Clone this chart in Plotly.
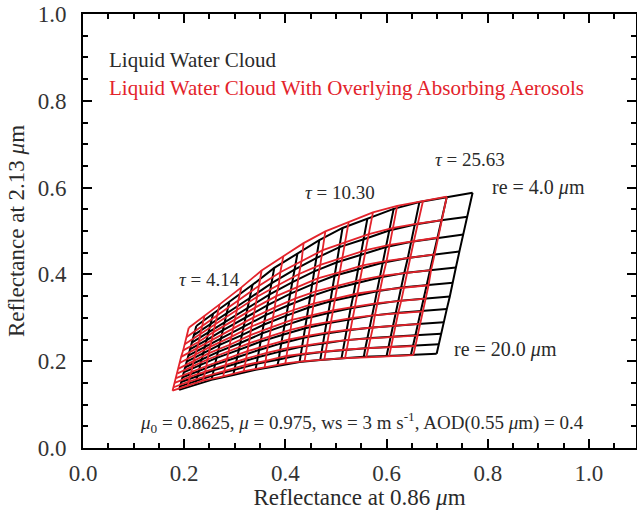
"""
Nakajima-King style look-up table: 0.86 um vs 2.13 um reflectance for a
liquid water cloud, with and without an overlying absorbing aerosol layer.
"""
import plotly.graph_objects as go

# ---------------------------------------------------------------------------
# DATA  (rows = effective radius 4 -> 20 um, columns = optical thickness)
# ---------------------------------------------------------------------------
TAU_LABELS = ["4.14", "10.30", "25.63"]
RE_LABELS = ["4.0", "20.0"]

CLOUD_X = [
    [0.224, 0.257, 0.289, 0.335, 0.378, 0.424, 0.467, 0.513, 0.562, 0.614, 0.665, 0.719, 0.770],
    [0.219, 0.252, 0.284, 0.329, 0.373, 0.418, 0.462, 0.507, 0.555, 0.605, 0.656, 0.708, 0.760],
    [0.215, 0.248, 0.280, 0.325, 0.369, 0.414, 0.457, 0.502, 0.549, 0.599, 0.649, 0.700, 0.752],
    [0.212, 0.245, 0.276, 0.321, 0.365, 0.409, 0.453, 0.497, 0.544, 0.592, 0.642, 0.693, 0.744],
    [0.208, 0.241, 0.273, 0.317, 0.361, 0.406, 0.449, 0.493, 0.539, 0.586, 0.635, 0.686, 0.737],
    [0.205, 0.238, 0.269, 0.314, 0.357, 0.402, 0.445, 0.489, 0.534, 0.581, 0.629, 0.679, 0.731],
    [0.202, 0.235, 0.266, 0.311, 0.354, 0.398, 0.442, 0.485, 0.529, 0.576, 0.623, 0.673, 0.725],
    [0.200, 0.232, 0.263, 0.308, 0.351, 0.395, 0.439, 0.481, 0.525, 0.571, 0.618, 0.667, 0.719],
    [0.197, 0.229, 0.261, 0.305, 0.348, 0.392, 0.436, 0.478, 0.521, 0.566, 0.613, 0.662, 0.713],
    [0.194, 0.226, 0.258, 0.302, 0.345, 0.389, 0.433, 0.475, 0.517, 0.562, 0.608, 0.657, 0.708],
    [0.192, 0.224, 0.256, 0.299, 0.343, 0.387, 0.430, 0.472, 0.514, 0.558, 0.604, 0.652, 0.703],
    [0.190, 0.222, 0.254, 0.297, 0.341, 0.384, 0.428, 0.469, 0.511, 0.555, 0.600, 0.648, 0.699],
]
CLOUD_Y = [
    [0.281, 0.309, 0.336, 0.376, 0.415, 0.449, 0.479, 0.507, 0.528, 0.551, 0.567, 0.578, 0.588],
    [0.260, 0.285, 0.310, 0.345, 0.380, 0.411, 0.438, 0.463, 0.481, 0.501, 0.515, 0.525, 0.533],
    [0.243, 0.267, 0.290, 0.322, 0.354, 0.382, 0.407, 0.428, 0.445, 0.463, 0.475, 0.484, 0.492],
    [0.228, 0.249, 0.271, 0.300, 0.329, 0.355, 0.377, 0.397, 0.411, 0.427, 0.438, 0.446, 0.453],
    [0.213, 0.233, 0.253, 0.280, 0.306, 0.329, 0.349, 0.366, 0.379, 0.393, 0.403, 0.410, 0.416],
    [0.199, 0.218, 0.237, 0.260, 0.284, 0.305, 0.323, 0.338, 0.350, 0.361, 0.370, 0.376, 0.381],
    [0.186, 0.204, 0.221, 0.242, 0.264, 0.282, 0.299, 0.311, 0.322, 0.331, 0.339, 0.344, 0.349],
    [0.175, 0.191, 0.207, 0.226, 0.245, 0.261, 0.276, 0.287, 0.296, 0.305, 0.311, 0.316, 0.320],
    [0.163, 0.178, 0.192, 0.209, 0.226, 0.241, 0.254, 0.263, 0.271, 0.277, 0.282, 0.286, 0.290],
    [0.152, 0.166, 0.179, 0.194, 0.209, 0.222, 0.234, 0.241, 0.248, 0.253, 0.257, 0.260, 0.263],
    [0.142, 0.155, 0.167, 0.180, 0.194, 0.204, 0.215, 0.221, 0.226, 0.230, 0.233, 0.236, 0.239],
    [0.134, 0.145, 0.157, 0.168, 0.180, 0.189, 0.198, 0.203, 0.207, 0.210, 0.212, 0.214, 0.217],
]

AEROSOL_X = [
    [0.209, 0.240, 0.270, 0.313, 0.353, 0.396, 0.436, 0.479, 0.525, 0.573, 0.621, 0.672, 0.719],
    [0.205, 0.235, 0.265, 0.307, 0.348, 0.390, 0.432, 0.474, 0.518, 0.565, 0.613, 0.661, 0.710],
    [0.201, 0.232, 0.262, 0.304, 0.345, 0.387, 0.427, 0.469, 0.513, 0.559, 0.606, 0.654, 0.702],
    [0.198, 0.229, 0.258, 0.300, 0.341, 0.382, 0.423, 0.464, 0.508, 0.553, 0.600, 0.647, 0.695],
    [0.194, 0.225, 0.255, 0.296, 0.337, 0.379, 0.419, 0.460, 0.503, 0.547, 0.593, 0.641, 0.688],
    [0.191, 0.222, 0.251, 0.293, 0.333, 0.375, 0.416, 0.457, 0.499, 0.543, 0.587, 0.634, 0.683],
    [0.189, 0.219, 0.248, 0.290, 0.331, 0.372, 0.413, 0.453, 0.494, 0.538, 0.582, 0.629, 0.677],
    [0.187, 0.217, 0.246, 0.288, 0.328, 0.369, 0.410, 0.449, 0.490, 0.533, 0.577, 0.623, 0.672],
    [0.184, 0.214, 0.244, 0.285, 0.325, 0.366, 0.407, 0.446, 0.487, 0.529, 0.573, 0.618, 0.666],
    [0.181, 0.211, 0.241, 0.282, 0.322, 0.363, 0.404, 0.444, 0.483, 0.525, 0.568, 0.614, 0.661],
    [0.179, 0.209, 0.239, 0.279, 0.320, 0.361, 0.402, 0.441, 0.480, 0.521, 0.564, 0.609, 0.657],
    [0.177, 0.207, 0.237, 0.277, 0.318, 0.359, 0.400, 0.438, 0.477, 0.518, 0.560, 0.605, 0.653],
]
AEROSOL_Y = [
    [0.277, 0.304, 0.331, 0.370, 0.409, 0.442, 0.472, 0.499, 0.520, 0.543, 0.558, 0.569, 0.579],
    [0.256, 0.281, 0.305, 0.340, 0.374, 0.405, 0.431, 0.456, 0.474, 0.493, 0.507, 0.517, 0.525],
    [0.239, 0.263, 0.286, 0.317, 0.349, 0.376, 0.401, 0.422, 0.438, 0.456, 0.468, 0.477, 0.485],
    [0.225, 0.245, 0.267, 0.296, 0.324, 0.350, 0.371, 0.391, 0.405, 0.421, 0.431, 0.439, 0.446],
    [0.210, 0.230, 0.249, 0.276, 0.301, 0.324, 0.344, 0.361, 0.373, 0.387, 0.397, 0.404, 0.410],
    [0.196, 0.215, 0.233, 0.256, 0.280, 0.300, 0.318, 0.333, 0.345, 0.356, 0.364, 0.370, 0.375],
    [0.183, 0.201, 0.218, 0.238, 0.260, 0.278, 0.295, 0.306, 0.317, 0.326, 0.334, 0.339, 0.344],
    [0.172, 0.188, 0.204, 0.223, 0.241, 0.257, 0.272, 0.283, 0.292, 0.300, 0.306, 0.311, 0.315],
    [0.161, 0.175, 0.189, 0.206, 0.223, 0.237, 0.250, 0.259, 0.267, 0.273, 0.278, 0.282, 0.286],
    [0.150, 0.164, 0.176, 0.191, 0.206, 0.219, 0.230, 0.237, 0.244, 0.249, 0.253, 0.256, 0.259],
    [0.140, 0.153, 0.164, 0.177, 0.191, 0.201, 0.212, 0.218, 0.223, 0.227, 0.230, 0.232, 0.235],
    [0.132, 0.143, 0.155, 0.165, 0.177, 0.186, 0.195, 0.200, 0.204, 0.207, 0.209, 0.211, 0.214],
]

BLACK = "#000000"
RED = "#E3232B"
TEXT = "#2a2a2a"
FONT = "Liberation Serif, Times New Roman, serif"


def grid_path(xs, ys):
    """Flatten a node grid into one polyline: every row, then every column."""
    px, py = [], []
    for row_x, row_y in zip(xs, ys):
        px += list(row_x) + [None]
        py += list(row_y) + [None]
    for j in range(len(xs[0])):
        px += [r[j] for r in xs] + [None]
        py += [r[j] for r in ys] + [None]
    return px, py


fig = go.Figure()

for xs, ys, color, width in [
    (CLOUD_X, CLOUD_Y, BLACK, 2.0),
    (AEROSOL_X, AEROSOL_Y, RED, 1.8),
]:
    gx, gy = grid_path(xs, ys)
    fig.add_trace(go.Scatter(
        x=gx, y=gy, mode="lines", showlegend=False, hoverinfo="skip",
        line=dict(color=color, width=width),
    ))

# Labels on the grid
tau_pos = [(0.250, 0.389), (0.507, 0.588), (0.764, 0.664)]
for (tx, ty), lab in zip(tau_pos, TAU_LABELS):
    fig.add_annotation(x=tx, y=ty, text=f"<i>τ</i> = {lab}", showarrow=False,
                       font=dict(size=19, color=TEXT))
re_pos = [(0.900, 0.601), (0.836, 0.226)]
for (rx, ry), lab in zip(re_pos, RE_LABELS):
    fig.add_annotation(x=rx, y=ry, text=f"re = {lab} <i>μ</i>m", showarrow=False,
                       font=dict(size=20, color=TEXT))

fig.add_annotation(x=0.048, y=0.894, text="Liquid Water Cloud", showarrow=False,
                   xanchor="left", font=dict(size=21, color=TEXT))
fig.add_annotation(x=0.048, y=0.829,
                   text="Liquid Water Cloud With Overlying Absorbing Aerosols",
                   showarrow=False, xanchor="left", font=dict(size=21, color=RED))
fig.add_annotation(
    x=0.551, y=0.058, showarrow=False, font=dict(size=19, color=TEXT),
    text="<i>μ</i><sub>0</sub> = 0.8625, <i>μ</i> = 0.975, ws = 3 m s<sup>-1</sup>, "
         "AOD(0.55 <i>μ</i>m) = 0.4",
)

axis_style = dict(
    showline=True, linewidth=2, linecolor="black", mirror="ticks",
    ticks="inside", ticklen=9, tickwidth=1.5, tickcolor="black",
    showgrid=False, zeroline=False, dtick=0.2, tickformat=".1f",
    tickfont=dict(size=23, color="#333"), automargin=False,
    minor=dict(dtick=0.05, ticks="inside", ticklen=5, tickwidth=1.5, tickcolor="black"),
)

fig.update_layout(
    width=637, height=510,
    margin=dict(l=83, r=1, t=14, b=62),
    paper_bgcolor="white", plot_bgcolor="white",
    font=dict(family=FONT, color=TEXT),
    xaxis=dict(range=[0, 1.093], ticklabelstandoff=3,
               title=dict(text="Reflectance at 0.86 <i>μ</i>m",
                          font=dict(size=23), standoff=6), **axis_style),
    yaxis=dict(range=[0, 1.0], ticklabelstandoff=10,
               title=dict(text="Reflectance at 2.13 <i>μ</i>m",
                          font=dict(size=23), standoff=7), **axis_style),
)

# the page's default body margin would push the 637x510 figure off the window
fig.write_html("out.html", config={"displayModeBar": False},
               post_script="document.body.style.margin = '0';")
